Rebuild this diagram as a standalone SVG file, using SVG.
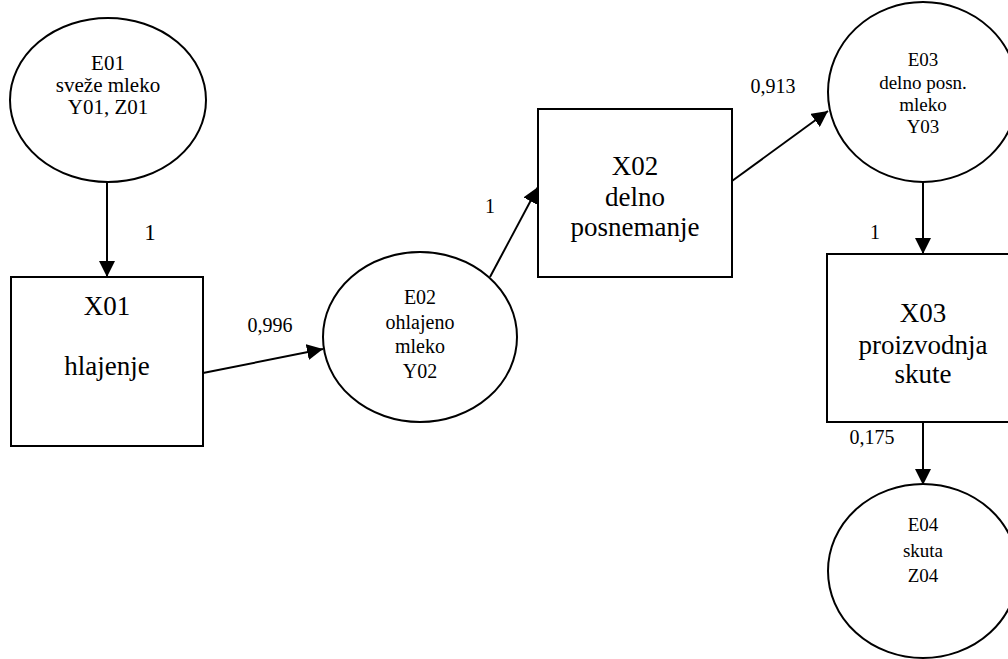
<svg xmlns="http://www.w3.org/2000/svg" width="1008" height="659" viewBox="0 0 1008 659">
<style>
  .node { fill: #fff; stroke: #000; stroke-width: 2; }
  .edge { stroke: #000; stroke-width: 2; fill: none; }
  text { fill: #000; text-anchor: middle; }
  .e { font-size: 20px; }
  .x { font-size: 27px; }
  .lbl { font-size: 20px; }
</style>
<defs>
  <marker id="arrow" viewBox="0 0 16 16" refX="16" refY="8" markerWidth="16" markerHeight="16" markerUnits="userSpaceOnUse" orient="auto">
    <path d="M0,0 L16,8 L0,16 z" fill="#000"/>
  </marker>
</defs>
<rect width="1008" height="659" fill="#fff"/>
<g id="connectors" font-family="'Liberation Serif', 'Times New Roman', serif">
  <line class="edge" x1="107" y1="182" x2="107" y2="277" marker-end="url(#arrow)"/>
  <line class="edge" x1="203" y1="373" x2="323" y2="349" marker-end="url(#arrow)"/>
  <line class="edge" x1="490" y1="277" x2="538" y2="187" marker-end="url(#arrow)"/>
  <line class="edge" x1="732" y1="181" x2="828" y2="111" marker-end="url(#arrow)"/>
  <line class="edge" x1="923" y1="183" x2="923" y2="254" marker-end="url(#arrow)"/>
  <line class="edge" x1="923" y1="422" x2="923" y2="485" marker-end="url(#arrow)"/>
  <text class="lbl" x="150" y="240" style="font-size:23px">1</text>
  <text class="lbl" x="270" y="332">0,996</text>
  <text class="lbl" x="490" y="213">1</text>
  <text class="lbl" x="773" y="93">0,913</text>
  <text class="lbl" x="875" y="239">1</text>
  <text class="lbl" x="872" y="444">0,175</text>
</g>
<g id="E01" font-family="'Liberation Serif', 'Times New Roman', serif">
  <ellipse class="node" cx="108" cy="100" rx="98" ry="82"/>
  <text class="e" x="108" y="70" style="font-size:21px">E01</text>
  <text class="e" x="108" y="92" style="font-size:21px">sveže mleko</text>
  <text class="e" x="108" y="114" style="font-size:21px">Y01, Z01</text>
</g>
<g id="X01" font-family="'Liberation Serif', 'Times New Roman', serif">
  <rect class="node" x="11" y="277" width="192" height="169"/>
  <text class="x" x="107" y="315">X01</text>
  <text class="x" x="107" y="375">hlajenje</text>
</g>
<g id="E02" font-family="'Liberation Serif', 'Times New Roman', serif">
  <ellipse class="node" cx="420" cy="337" rx="97" ry="85"/>
  <text class="e" x="420" y="304">E02</text>
  <text class="e" x="420" y="329">ohlajeno</text>
  <text class="e" x="420" y="353">mleko</text>
  <text class="e" x="420" y="378">Y02</text>
</g>
<g id="X02" font-family="'Liberation Serif', 'Times New Roman', serif">
  <rect class="node" x="538" y="109" width="194" height="168"/>
  <text class="x" x="635" y="175">X02</text>
  <text class="x" x="635" y="206">delno</text>
  <text class="x" x="635" y="236">posnemanje</text>
</g>
<g id="E03" font-family="'Liberation Serif', 'Times New Roman', serif">
  <ellipse class="node" cx="923" cy="92" rx="95" ry="90"/>
  <text class="e" x="923" y="66" style="font-size:19px">E03</text>
  <text class="e" x="923" y="89" style="font-size:19px">delno posn.</text>
  <text class="e" x="923" y="111" style="font-size:19px">mleko</text>
  <text class="e" x="923" y="133" style="font-size:19px">Y03</text>
</g>
<g id="X03" font-family="'Liberation Serif', 'Times New Roman', serif">
  <rect class="node" x="827" y="254" width="192" height="168"/>
  <text class="x" x="923" y="322">X03</text>
  <text class="x" x="923" y="354">proizvodnja</text>
  <text class="x" x="923" y="383">skute</text>
</g>
<g id="E04" font-family="'Liberation Serif', 'Times New Roman', serif">
  <ellipse class="node" cx="923" cy="571" rx="95" ry="87"/>
  <text class="e" x="923" y="531" style="font-size:19px">E04</text>
  <text class="e" x="923" y="557" style="font-size:19px">skuta</text>
  <text class="e" x="923" y="582" style="font-size:19px">Z04</text>
</g>
</svg>
